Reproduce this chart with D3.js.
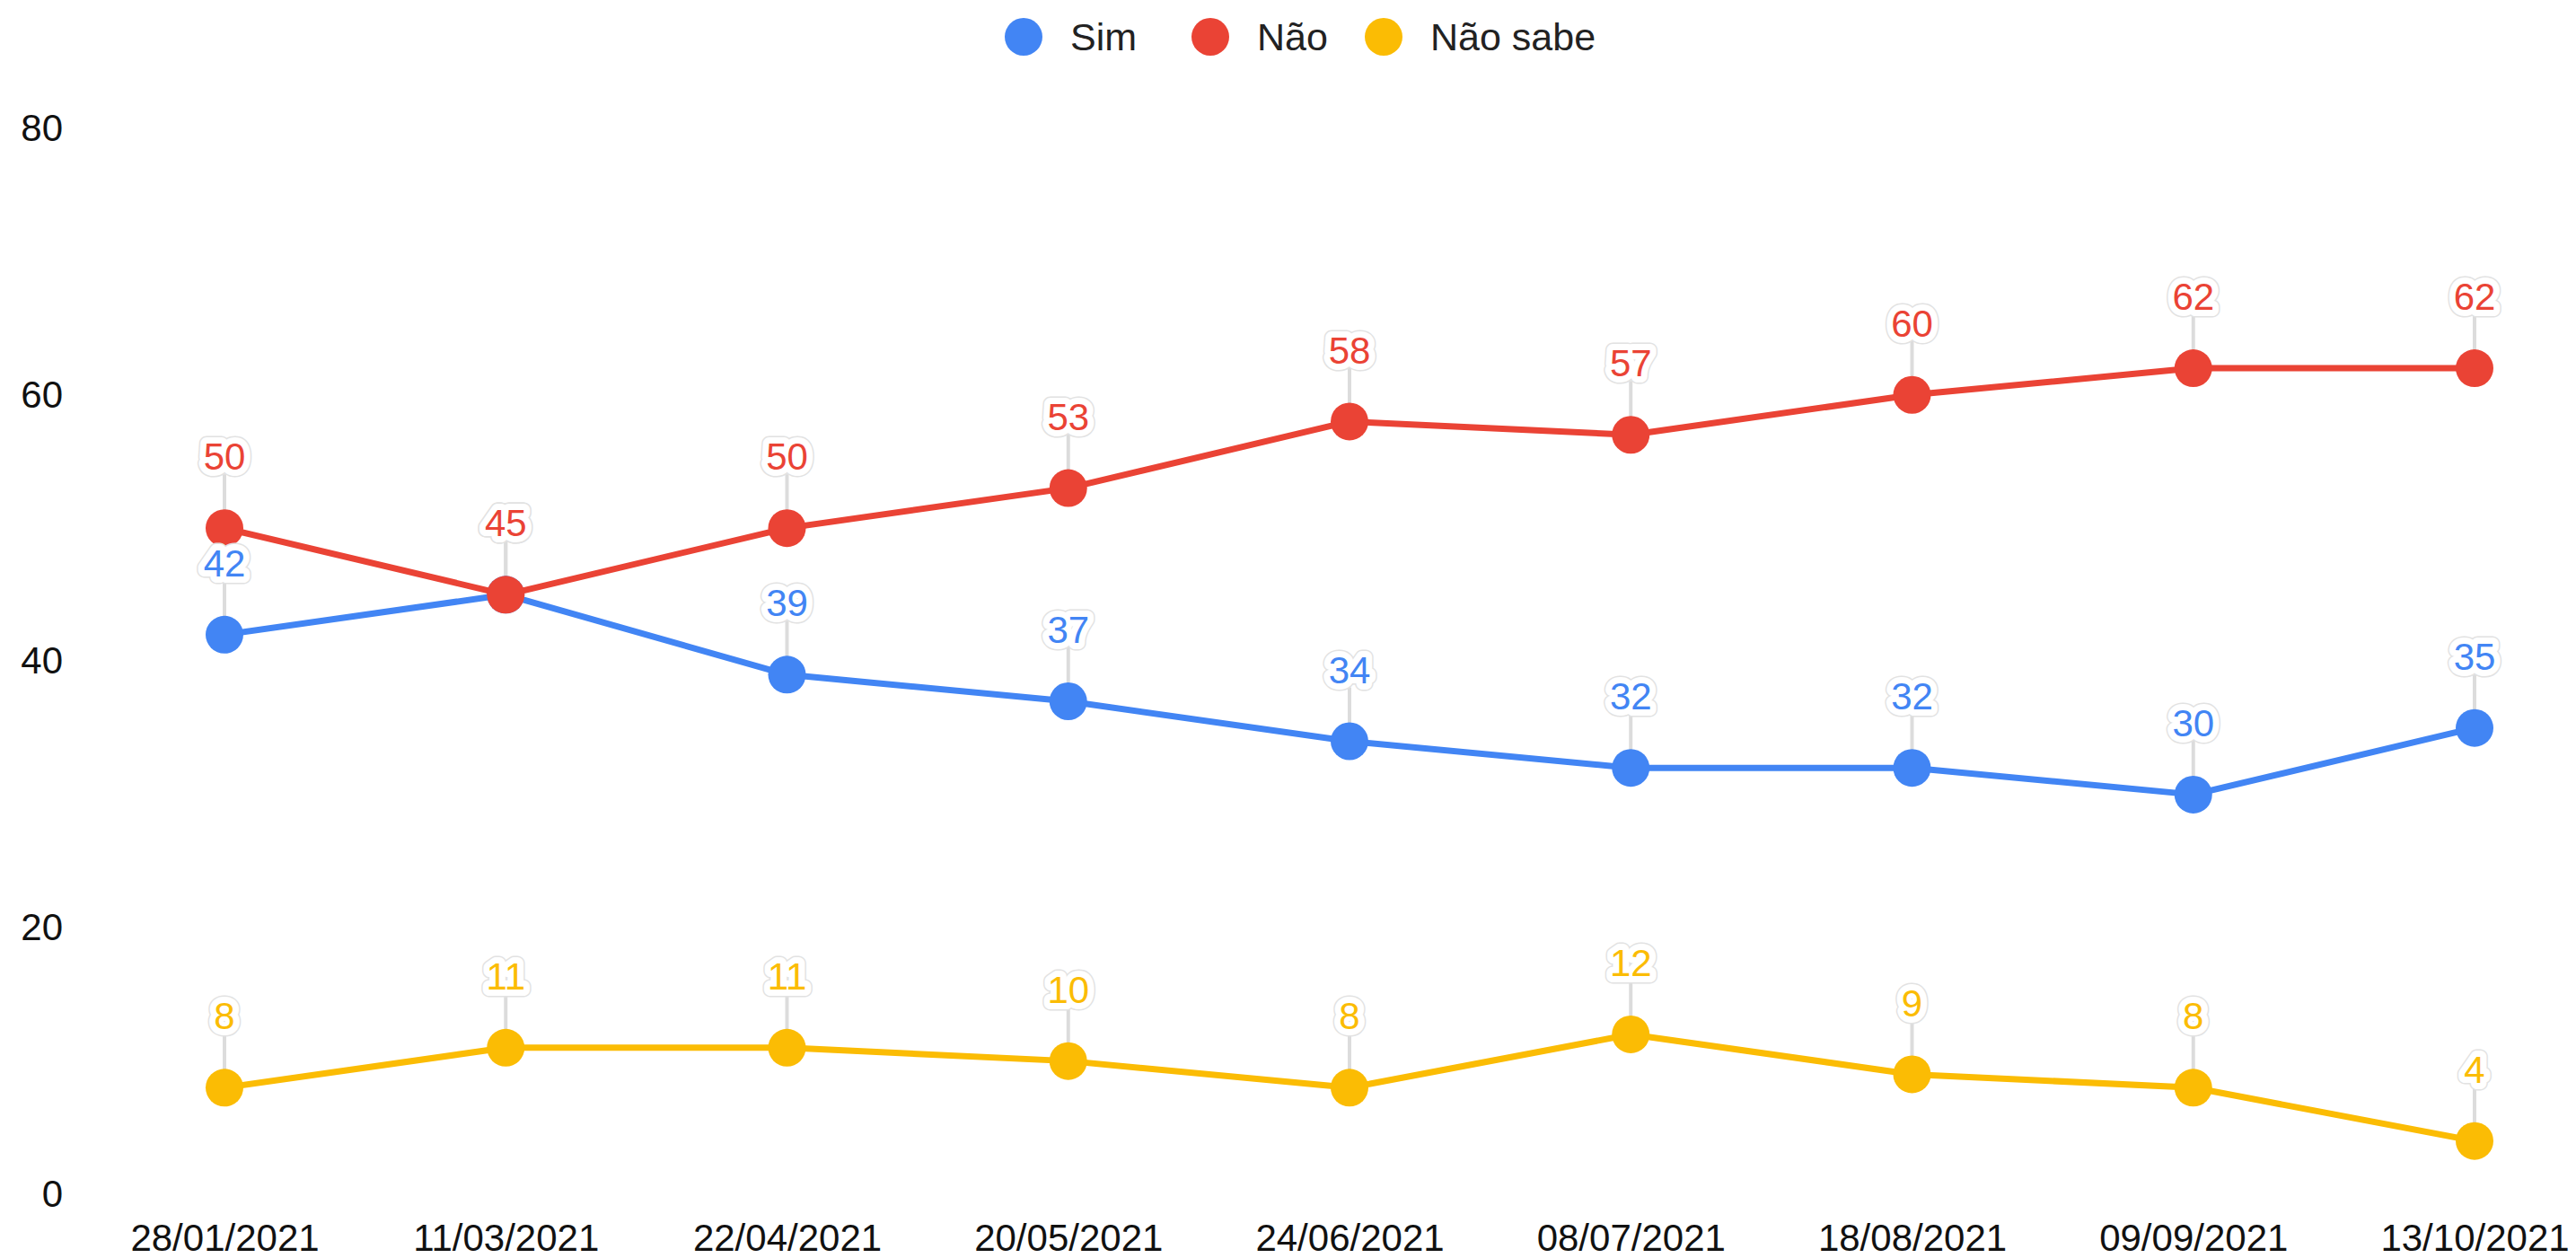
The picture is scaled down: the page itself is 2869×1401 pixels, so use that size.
<!DOCTYPE html>
<html>
<head>
<meta charset="utf-8">
<script src="https://cdn.jsdelivr.net/npm/d3@7"></script>
<style>
  html, body { margin: 0; padding: 0; background: #fff; }
  svg { display: block; font-family: "Liberation Sans", Arial, sans-serif; }
</style>
</head>
<body>
<div id="chart"></div>
<script>
// Survey dates (x axis)
var dates = ["28/01/2021", "11/03/2021", "22/04/2021", "20/05/2021", "24/06/2021",
  "08/07/2021", "18/08/2021", "09/09/2021", "13/10/2021"];

// Series values
var sim = [42, 45, 39, 37, 34, 32, 32, 30, 35];
var nao = [50, 45, 50, 53, 58, 57, 60, 62, 62];
var naoSabe = [8, 11, 11, 10, 8, 12, 9, 8, 4];

var seriesNames = ["Sim", "Não", "Não sabe"];
var seriesColors = ["#4285F4", "#EA4335", "#FBBC04"];
var yTicks = [0, 20, 40, 60, 80];

var width = 2869, height = 1401;

var series = [
  { name: seriesNames[0], color: seriesColors[0], values: sim },
  { name: seriesNames[1], color: seriesColors[1], values: nao },
  { name: seriesNames[2], color: seriesColors[2], values: naoSabe }
];

var svg = d3.select("#chart")
  .append("svg")
  .attr("width", width)
  .attr("height", height);

var x = d3.scalePoint()
  .domain(dates)
  .range([250, 2756]);

var y = d3.scaleLinear()
  .domain([0, 80])
  .range([1330, 143]);

// Y axis (labels only)
var yAxis = svg.append("g")
  .attr("transform", "translate(76,0)")
  .call(d3.axisLeft(y).tickValues(yTicks).tickSize(0).tickPadding(6));
yAxis.select(".domain").remove();
yAxis.selectAll("text")
  .attr("font-size", 42)
  .attr("font-family", "Liberation Sans, Arial, sans-serif")
  .attr("fill", "#111");

// X axis (labels only)
var xAxis = svg.append("g")
  .attr("transform", "translate(0,1355)")
  .call(d3.axisBottom(x).tickSize(0).tickPadding(8));
xAxis.select(".domain").remove();
xAxis.selectAll("text")
  .attr("font-size", 42)
  .attr("font-family", "Liberation Sans, Arial, sans-serif")
  .attr("fill", "#111");

var labelOffset = 80;

// Leader lines from each point up to its label
series.forEach(function (s) {
  svg.append("g")
    .selectAll("line")
    .data(s.values)
    .enter().append("line")
    .attr("x1", function (d, i) { return x(dates[i]); })
    .attr("x2", function (d, i) { return x(dates[i]); })
    .attr("y1", function (d) { return y(d); })
    .attr("y2", function (d) { return y(d) - labelOffset + 20; })
    .attr("stroke", "#dcdcdc")
    .attr("stroke-width", 4);
});

var line = d3.line()
  .x(function (d, i) { return x(dates[i]); })
  .y(function (d) { return y(d); });

// Lines and markers
series.forEach(function (s) {
  svg.append("path")
    .datum(s.values)
    .attr("fill", "none")
    .attr("stroke", s.color)
    .attr("stroke-width", 7)
    .attr("stroke-linejoin", "round")
    .attr("d", line);

  svg.append("g")
    .selectAll("circle")
    .data(s.values)
    .enter().append("circle")
    .attr("cx", function (d, i) { return x(dates[i]); })
    .attr("cy", function (d) { return y(d); })
    .attr("r", 21)
    .attr("fill", s.color);
});

// Value labels with a white halo and faint grey outline
series.forEach(function (s) {
  var g = svg.append("g")
    .attr("font-size", 42)
    .attr("text-anchor", "middle");

  function addLayer(stroke, sw) {
    g.append("g")
      .selectAll("text")
      .data(s.values)
      .enter().append("text")
      .attr("x", function (d, i) { return x(dates[i]); })
      .attr("y", function (d) { return y(d) - labelOffset; })
      .attr("dy", "0.36em")
      .attr("fill", stroke ? "#fff" : s.color)
      .attr("stroke", stroke)
      .attr("stroke-width", sw)
      .attr("stroke-linejoin", "round")
      .text(function (d) { return d; });
  }
  addLayer("#e2e2e2", 17);
  addLayer("#ffffff", 14);
  addLayer(null, 0);
});

// Legend
var legendX = [1140, 1348, 1541];
var legend = svg.append("g").attr("transform", "translate(0,41)");
series.forEach(function (s, i) {
  legend.append("circle")
    .attr("cx", legendX[i])
    .attr("cy", 0)
    .attr("r", 21)
    .attr("fill", s.color);
  legend.append("text")
    .attr("x", legendX[i] + 52)
    .attr("y", 0)
    .attr("dy", "0.36em")
    .attr("font-size", 43)
    .attr("fill", "#222")
    .text(s.name);
});
</script>
</body>
</html>
